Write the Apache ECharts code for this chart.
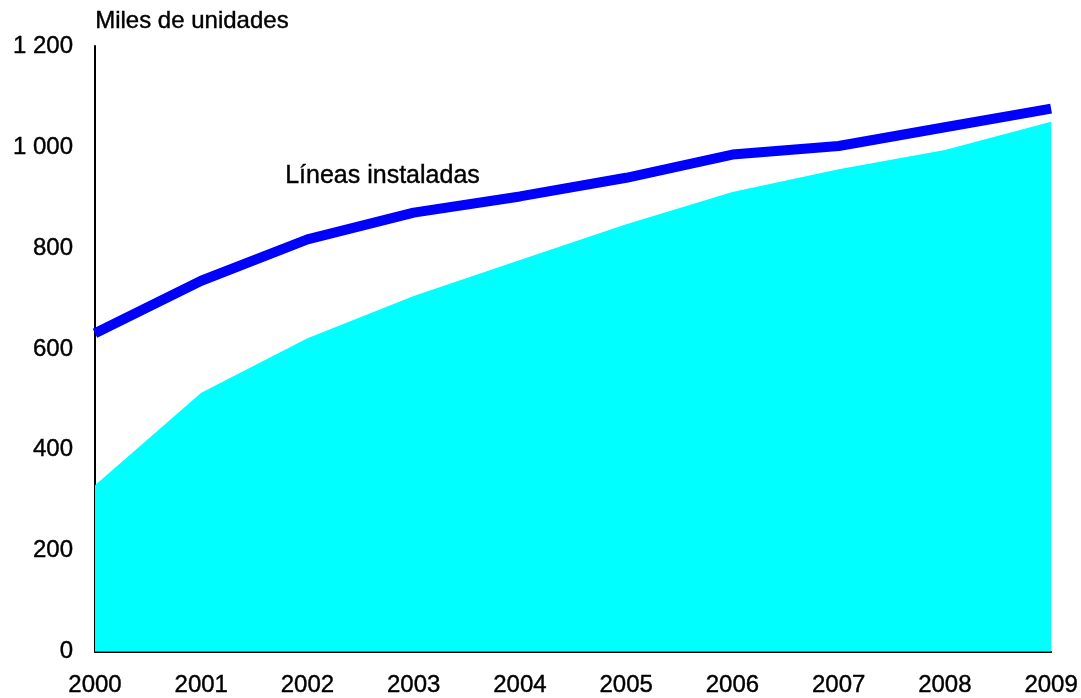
<!DOCTYPE html>
<html>
<head>
<meta charset="utf-8">
<script src="https://cdn.jsdelivr.net/npm/echarts@6/dist/echarts.min.js"></script>
<style>html,body{margin:0;padding:0;background:#fff}#c{width:1081px;height:698px}</style>
</head>
<body>
<div id="c"></div>
<script>
const years = ['2000','2001','2002','2003','2004','2005','2006','2007','2008','2009'];
const lineasInstaladas = [631, 735, 817, 870, 902, 939, 985, 1002, 1039, 1076];
const lineasDigitales = [330, 513, 621, 705, 776, 847, 911, 956, 994, 1050];
const yTicks = [0, 200, 400, 600, 800, 1000, 1200];

const chart = echarts.init(document.getElementById('c'));
const font = 'Liberation Sans, Arial, sans-serif';
const txt = {fill: '#000', stroke: '#000', lineWidth: 0.4};
chart.setOption({
  animation: false,
  backgroundColor: '#fff',
  grid: {left: 95, right: 29, top: 46, bottom: 37, containLabel: false},
  xAxis: {
    type: 'category', data: years, boundaryGap: false,
    axisLine: {lineStyle: {color: '#000', width: 2}},
    axisTick: {show: false},
    axisLabel: {color: '#000', fontSize: 24, fontFamily: font, margin: 22, textBorderColor: '#000', textBorderWidth: 0.4}
  },
  yAxis: {
    type: 'value', min: 0, max: 1200, interval: 200,
    axisLine: {show: true, lineStyle: {color: '#000', width: 2}},
    axisTick: {show: false},
    splitLine: {show: false},
    axisLabel: {color: '#000', fontSize: 24, fontFamily: font, margin: 22, textBorderColor: '#000', textBorderWidth: 0.4,
      formatter: v => yTicks.includes(v) ? String(v).replace(/\B(?=(\d{3})+(?!\d))/g, ' ') : ''}
  },
  graphic: [
    {type: 'text', left: 95, top: 9, style: Object.assign({text: 'Miles de unidades', font: '24px ' + font}, txt)},
    {type: 'text', left: 285, top: 163, style: Object.assign({text: 'Líneas instaladas', font: '25px ' + font}, txt)},
    {type: 'text', left: 655, top: 429, style: Object.assign({text: 'Líneas digitales', font: '25px ' + font}, txt)}
  ],
  series: [
    {type: 'line', data: lineasDigitales, symbol: 'none', lineStyle: {width: 0}, areaStyle: {color: '#00FFFF', opacity: 1}, z: 1},
    {type: 'line', data: lineasInstaladas, symbol: 'none', lineStyle: {color: '#0000FF', width: 10}, z: 3}
  ]
});
</script>
</body>
</html>
